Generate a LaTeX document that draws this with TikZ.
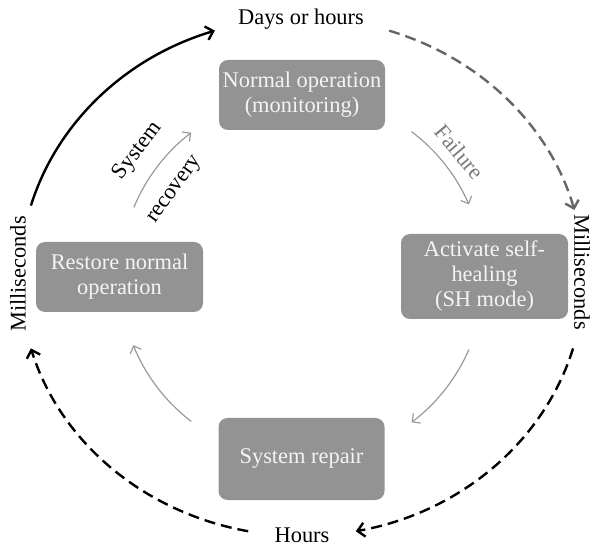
\documentclass[tikz,border=0pt]{standalone}
\usepackage{fontspec}
\setmainfont{Liberation Serif}
\usetikzlibrary{arrows.meta,calc}
\definecolor{boxfill}{HTML}{939393}
\definecolor{boxtext}{HTML}{F4F4F4}
\definecolor{thinarrow}{HTML}{9A9A9A}
\definecolor{darkdash}{HTML}{666666}
\definecolor{faillabel}{HTML}{7A7A7A}
\begin{document}
\begin{tikzpicture}[x=1pt,y=1pt,
  every node/.style={font=\fontsize{22.4}{25}\selectfont},
  stagebox/.style={fill=boxfill,text=boxtext,rounded corners=9pt,align=center,inner sep=0pt},
  cyclearrow/.style={draw=thinarrow,line width=1.2pt,-{Straight Barb[length=6pt,width=12pt]}},
  timesolid/.style={draw=black,line width=2.4pt,-{Straight Barb[length=7pt,width=14pt]}},
  timedash/.style={line width=2.4pt,dash pattern=on 11pt off 6pt,-{Straight Barb[length=7pt,width=14pt]}},
  timelabel/.style={text=black,inner sep=0pt}]
\useasboundingbox (0,0) rectangle (593,548);
\coordinate (C) at (302,271);

% process stages
\node[stagebox,minimum width=166pt,minimum height=70pt] (normal) at (302,453) {Normal operation\\(monitoring)};
\node[stagebox,minimum width=167pt,minimum height=85pt] (activate) at (484.5,271.5) {Activate self-\\healing\\(SH mode)};
\node[stagebox,minimum width=166pt,minimum height=82pt] (repair) at (301.5,89) {System repair};
\node[stagebox,minimum width=167pt,minimum height=70pt] (restore) at (119.5,271) {Restore normal\\operation};

% inner cycle arrows (arcs around the centre)
\coordinate (fail-s) at ($(C)+(53:182pt)$);
\coordinate (heal-s) at ($(C)+(-23.5:182pt)$);
\coordinate (rep-s)  at ($(C)+(-127.5:182pt)$);
\coordinate (rec-s)  at ($(C)+(157.5:182pt)$);
\draw[cyclearrow] (fail-s) arc[start angle=53,end angle=23.5,radius=182pt];
\draw[cyclearrow] (heal-s) arc[start angle=-23.5,end angle=-53,radius=182pt];
\draw[cyclearrow] (rep-s) arc[start angle=-127.5,end angle=-158,radius=182pt];
\draw[cyclearrow] (rec-s) arc[start angle=157.5,end angle=127.5,radius=182pt];

\node[text=faillabel,rotate=-50,inner sep=0pt] (failure) at ($(C)+(38.5:201pt)$) {Failure};
\node[rotate=53,inner sep=0pt] (system) at ($(C)+(142.5:207pt)$) {System};
\node[rotate=54,inner sep=0pt] (recovery) at ($(C)+(145.5:153pt)$) {recovery};

% time scales on the outer ring
\node[timelabel,anchor=base] (days) at (301,523) {Days or hours};
\node[timelabel,anchor=base] (hours) at (302,6) {Hours};
\node[timelabel,rotate=90] (msleft) at (18,274) {Milliseconds};
\node[timelabel,rotate=-90] (msright) at (582,276) {Milliseconds};

\coordinate (o1) at ($(C)+(164:282pt and 259pt)$);
\coordinate (o2) at ($(C)+(72:282pt and 259pt)$);
\coordinate (o3) at ($(C)+(-16:282pt and 259pt)$);
\coordinate (o4) at ($(C)+(-101:282pt and 259pt)$);
\draw[timesolid] (o1) arc[start angle=164,end angle=108,x radius=282pt,y radius=259pt];
\draw[timedash,draw=darkdash] (o2) arc[start angle=72,end angle=15,x radius=282pt,y radius=259pt];
\draw[timedash,draw=black] (o3) arc[start angle=-16,end angle=-79,x radius=282pt,y radius=259pt];
\draw[timedash,draw=black] (o4) arc[start angle=-101,end angle=-164,x radius=282pt,y radius=259pt];
\end{tikzpicture}
\end{document}
